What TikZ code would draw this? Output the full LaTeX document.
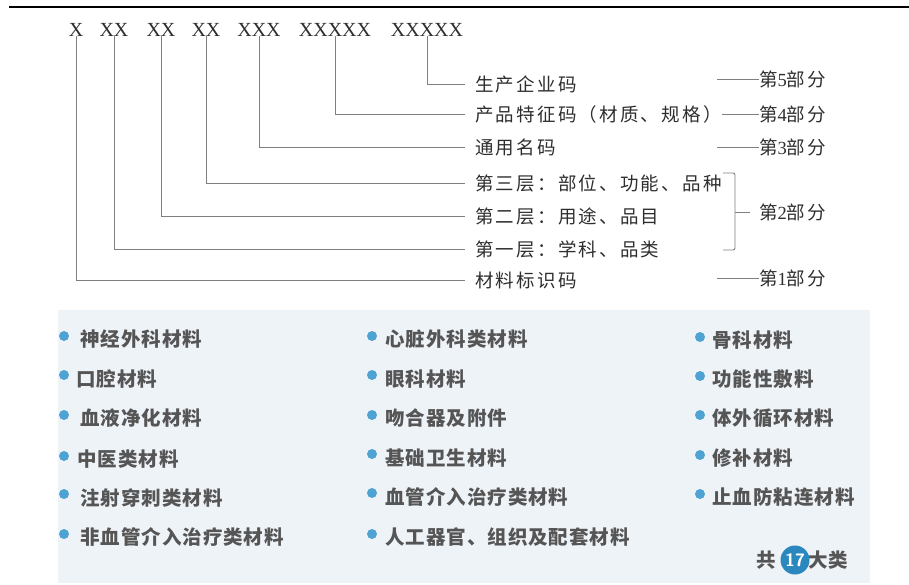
\documentclass[tikz,border=0pt]{standalone}
\usepackage{fontspec}
\setmainfont{Liberation Serif}
\newfontfamily\cjk[LetterSpace=12]{Noto Sans CJK SC}
\newfontfamily\cjkb[LetterSpace=5]{Noto Sans CJK SC}
\definecolor{txt}{HTML}{2E2E2E}
\definecolor{linec}{HTML}{7F7F7F}
\definecolor{panel}{HTML}{EEF3F8}
\definecolor{itemc}{HTML}{555555}
\definecolor{bul}{HTML}{4FA3D3}
\definecolor{badge}{HTML}{2A88BE}
\newcommand{\dg}[1]{{\rmfamily #1}}
\begin{document}
\begin{tikzpicture}[x=1pt,y=-1pt,
  codegrp/.style={font=\fontsize{20}{20}\selectfont, text=txt, inner sep=0pt, anchor=base},
  lbl/.style={font=\cjk\fontsize{18.5}{18.5}\selectfont, text=txt, inner sep=0pt, anchor=west},
  conn/.style={draw=linec, line width=0.9pt},
  item/.style={font=\cjkb\bfseries\fontsize{19.5}{19.5}\selectfont, text=itemc, inner sep=0pt, anchor=west},
  bullet/.style={circle, fill=bul, inner sep=0pt, minimum size=10pt}
]
\useasboundingbox (0,0) rectangle (909,584);
% top rule
\draw[line width=2.4pt] (9,7) -- (909,7);

% code groups
\node[codegrp] (g1) at (76,36) {X};
\node[codegrp] (g2) at (114,36) {XX};
\node[codegrp] (g3) at (161,36) {XX};
\node[codegrp] (g4) at (206,36) {XX};
\node[codegrp] (g5) at (259,36) {XXX};
\node[codegrp] (g6) at (335,36) {XXXXX};
\node[codegrp] (g7) at (427,36) {XXXXX};

% labels
\node[lbl] (t7) at (475,84) {生产企业码};
\node[lbl] (t6) at (475,114) {产品特征码（材质、规格）};
\node[lbl] (t5) at (475,147) {通用名码};
\node[lbl] (t4) at (475,183) {第三层：部位、功能、品种};
\node[lbl] (t3) at (475,216) {第二层：用途、品目};
\node[lbl] (t2) at (475,249) {第一层：学科、品类};
\node[lbl] (t1) at (475,280) {材料标识码};

\draw[conn, shorten >=10pt] (g7.south) |- (t7.west);
\draw[conn, shorten >=10pt] (g6.south) |- (t6.west);
\draw[conn, shorten >=10pt] (g5.south) |- (t5.west);
\draw[conn, shorten >=10pt] (g4.south) |- (t4.west);
\draw[conn, shorten >=10pt] (g3.south) |- (t3.west);
\draw[conn, shorten >=10pt] (g2.south) |- (t2.west);
\draw[conn, shorten >=10pt] (g1.south) |- (t1.west);

% part labels
\node[lbl] (p5) at (759,79) {第\dg{5}部分};
\node[lbl] (p4) at (759,114) {第\dg{4}部分};
\node[lbl] (p3) at (759,147) {第\dg{3}部分};
\node[lbl] (p2) at (759,212) {第\dg{2}部分};
\node[lbl] (p1) at (759,278) {第\dg{1}部分};
\coordinate (e5) at (717,79);
\coordinate (e3) at (717,147);
\coordinate (e1) at (717,278);
\coordinate (bt) at (735,212);
\draw[conn] (e5) -- (p5.west);
\draw[conn] (t6.east) -- (p4.west);
\draw[conn] (e3) -- (p3.west);
\draw[conn] (e1) -- (p1.west);
% brace
\draw[conn, rounded corners=2pt] (723,173) -- (735,173) -- (735,250) -- (723,250);
\draw[conn, shorten >=9pt] (bt) -- (p2.west);

% panel
\fill[panel] (58,310) rectangle (870,583);

% column 1
\node[bullet] (b1) at (64,336) {};
\node[item] (i1) at (80,339) {神经外科材料};
\node[bullet] (b2) at (64,375) {};
\node[item] (i2) at (76,379) {口腔材料};
\node[bullet] (b3) at (64,415) {};
\node[item] (i3) at (80,418) {血液净化材料};
\node[bullet] (b4) at (64,456) {};
\node[item] (i4) at (77,459) {中医类材料};
\node[bullet] (b5) at (64,494) {};
\node[item] (i5) at (80,498) {注射穿刺类材料};
\node[bullet] (b6) at (64,534) {};
\node[item] (i6) at (80,537) {非血管介入治疗类材料};

% column 2
\node[bullet] (b7) at (372,336) {};
\node[item] (i7) at (385,339) {心脏外科类材料};
\node[bullet] (b8) at (372,375) {};
\node[item] (i8) at (385,379) {眼科材料};
\node[bullet] (b9) at (372,415) {};
\node[item] (i9) at (385,418) {吻合器及附件};
\node[bullet] (b10) at (372,454) {};
\node[item] (i10) at (385,458) {基础卫生材料};
\node[bullet] (b11) at (372,493) {};
\node[item] (i11) at (385,497) {血管介入治疗类材料};
\node[bullet] (b12) at (372,534) {};
\node[item] (i12) at (385,537) {人工器官、组织及配套材料};

% column 3
\node[bullet] (b13) at (700,337) {};
\node[item] (i13) at (712,340) {骨科材料};
\node[bullet] (b14) at (700,376) {};
\node[item] (i14) at (712,379) {功能性敷料};
\node[bullet] (b15) at (700,415) {};
\node[item] (i15) at (712,418) {体外循环材料};
\node[bullet] (b16) at (700,455) {};
\node[item] (i16) at (712,458) {修补材料};
\node[bullet] (b17) at (700,494) {};
\node[item] (i17) at (712,497) {止血防粘连材料};

% total
\node[item, anchor=center] (gong) at (766,560) {共};
\node[circle, fill=badge, minimum size=29pt, inner sep=0pt, text=white,
      font=\sffamily\bfseries\fontsize{18}{18}\selectfont] (n17) at (795,560) {17};
\node[item] (dalei) at (808,560) {大类};
\end{tikzpicture}
\end{document}
